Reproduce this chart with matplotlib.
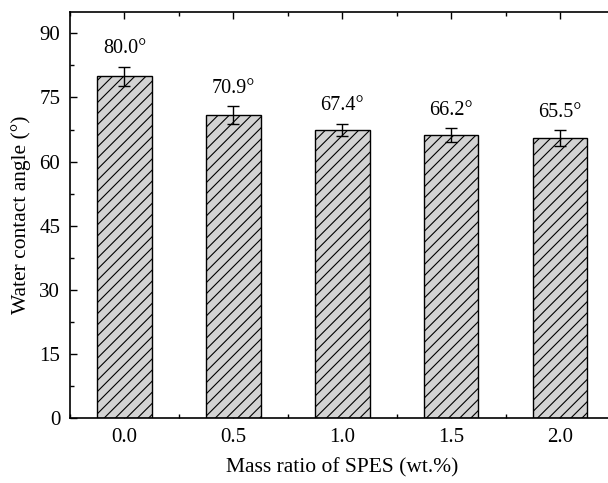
import matplotlib.pyplot as plt
from matplotlib.ticker import MultipleLocator

plt.rcParams['font.family'] = ['Liberation Serif', 'DejaVu Serif']
plt.rcParams['hatch.linewidth'] = 0.8

ratios = [0.0, 0.5, 1.0, 1.5, 2.0]
angles = [80.0, 70.9, 67.4, 66.2, 65.5]
errors = [2.2, 2.0, 1.5, 1.6, 1.8]
tick_labels = ['0.0', '0.5', '1.0', '1.5', '2.0']

fig = plt.figure(figsize=(6.08, 4.83), dpi=100)
ax = fig.add_axes([0.115, 0.135, 0.896, 0.84])

ax.bar(ratios, angles, width=0.25, color='#d3d3d3', edgecolor='black',
       linewidth=1.0, hatch='///', zorder=2)
ax.errorbar(ratios, angles, yerr=errors, fmt='none', ecolor='black',
            elinewidth=1.0, capsize=4, capthick=1.0, zorder=3)

for x, v, e in zip(ratios, angles, errors):
    ax.annotate(f'{v:.1f}°', xy=(x, v + e), xytext=(0, 6),
                textcoords='offset points', ha='center', va='bottom',
                fontsize=14.5)

ax.set_xlim(-0.25, 2.25)
ax.set_ylim(0, 95)
ax.set_xticks(ratios)
ax.set_xticklabels(tick_labels)
ax.set_yticks([0, 15, 30, 45, 60, 75, 90])
ax.xaxis.set_minor_locator(MultipleLocator(0.25))
ax.yaxis.set_minor_locator(MultipleLocator(7.5))
ax.tick_params(which='both', direction='in', top=True, right=True,
               labelsize=15, width=1.0)
ax.tick_params(which='major', length=5, pad=7)
ax.tick_params(which='minor', length=3)
for s in ax.spines.values():
    s.set_linewidth(1.2)

ax.set_xlabel('Mass ratio of SPES (wt.%)', fontsize=15.5, labelpad=8)
ax.set_ylabel('Water contact angle (°)', fontsize=15.5, labelpad=6)

fig.savefig('out.png', dpi=100)
